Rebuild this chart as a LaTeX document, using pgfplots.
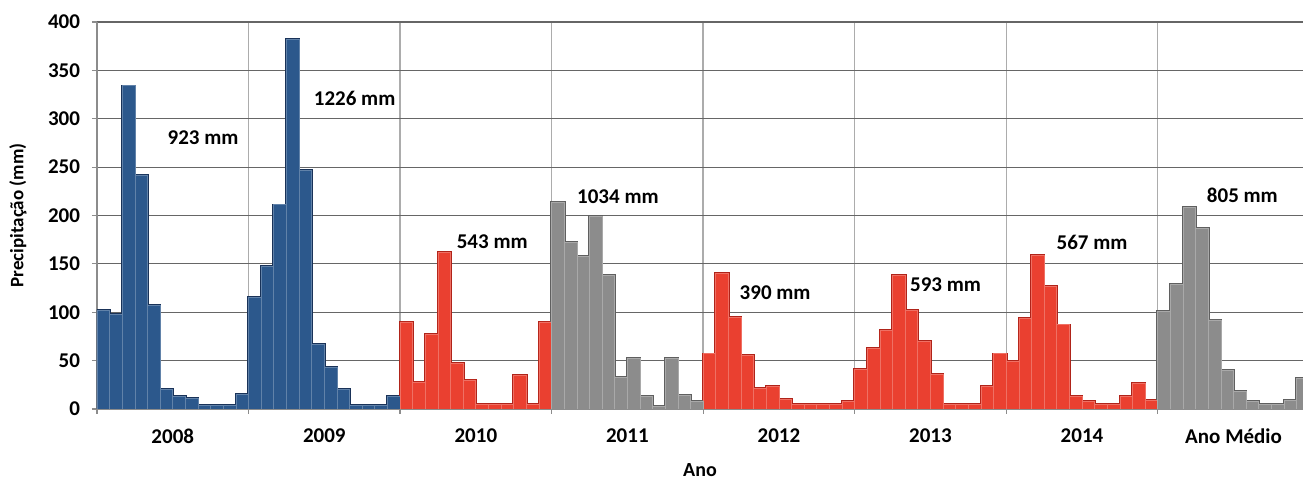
\documentclass[border=0pt]{standalone}
\usepackage{pgfplots}
\usepackage{pgfplotstable}
\pgfplotsset{compat=1.18}
\usepackage{fontspec}
\setmainfont{Carlito}
\definecolor{barblue}{RGB}{44,88,140}
\definecolor{edgeblue}{RGB}{25,50,88}
\definecolor{barred}{RGB}{234,64,48}
\definecolor{edgered}{RGB}{175,35,25}
\definecolor{bargray}{RGB}{140,140,140}
\definecolor{edgegray}{RGB}{95,95,95}
% monthly precipitation, x = month index (0 = Jan 2008)
% 2008-2009
\pgfplotstableread{
x y
0 102
1 98
2 334
3 242
4 107
5 20
6 13
7 11
8 4
9 4
10 4
11 15
12 115
13 147
14 211
15 382
16 247
17 67
18 43
19 20
20 4
21 4
22 4
23 13
}\blueyears
% 2010, 2012, 2013, 2014
\pgfplotstableread{
x y
24 90
25 28
26 77
27 162
28 47
29 30
30 5
31 5
32 5
33 35
34 5
35 90
48 57
49 140
50 95
51 55
52 21
53 23
54 10
55 5
56 5
57 5
58 5
59 8
60 41
61 63
62 81
63 138
64 102
65 70
66 36
67 5
68 5
69 5
70 23
71 57
72 49
73 94
74 159
75 127
76 87
77 13
78 8
79 5
80 5
81 13
82 27
83 9
}\redyears
% 2011, Ano Medio
\pgfplotstableread{
x y
36 214
37 172
38 158
39 199
40 138
41 33
42 52
43 13
44 3
45 52
46 14
47 8
84 101
85 129
86 208
87 187
88 92
89 40
90 18
91 8
92 5
93 5
94 9
95 32
}\grayyears
\begin{document}
\begin{tikzpicture}
\path[use as bounding box] (-48.5pt,-38pt) rectangle (603pt,204.5pt);
\begin{axis}[
    scale only axis,
    width=603pt, height=193.5pt,
    ybar, bar width=1, bar shift=0pt,
    xmin=-0.5, xmax=95,
    ymin=0, ymax=400,
    ytick={0,50,...,400},
    axis x line*=bottom, axis y line*=left,
    axis line style={draw=gray!90, line width=0.6pt},
    tick align=outside, major tick length=2.5pt,
    tick style={draw=gray!90, line width=0.6pt},
    xtick={-0.5,11.5,...,83.5},
    xticklabels={},
    extra x ticks={5.5,17.5,29.5,41.5,53.5,65.5,77.5,89.5},
    extra x tick labels={2008,2009,2010,2011,2012,2013,2014,Ano Médio},
    extra x tick style={major tick length=0pt, grid=none,
        xticklabel style={yshift=-6.5pt}},
    xmajorgrids, ymajorgrids,
    x grid style={draw=gray!65, line width=0.7pt},
    y grid style={draw=black!60, line width=0.6pt},
    ticklabel style={font=\fontsize{10.5}{12}\selectfont\bfseries},
    yticklabel style={xshift=-2.5pt},
    /pgf/number format/assume math mode=true,
    xlabel={Ano}, ylabel={Precipitação (mm)},
    label style={font=\fontsize{10}{12}\selectfont\bfseries},
    xlabel style={at={(axis description cs:0.5,-0.158)}, anchor=center},
    ylabel style={font=\fontsize{9.5}{12}\selectfont\bfseries,
        at={(axis description cs:-0.0655,0.5)}, anchor=center},
]
% dark silhouettes
\addplot[fill=edgeblue, draw=edgeblue, line width=1.3pt] table {\blueyears};
\addplot[fill=edgered, draw=edgered, line width=1.3pt] table {\redyears};
\addplot[fill=edgegray, draw=edgegray, line width=1.3pt] table {\grayyears};
% bars
\addplot[fill=barblue, draw=barblue!75!white, line width=0.35pt] table {\blueyears};
\addplot[fill=barred, draw=barred!75!white, line width=0.35pt] table {\redyears};
\addplot[fill=bargray, draw=bargray!75!white, line width=0.35pt] table {\grayyears};
\begin{scope}[every node/.style={font=\fontsize{10.5}{12}\selectfont\bfseries}]
\node at (axis cs:7.9,280) {923 mm};
\node at (axis cs:19.9,321) {1226 mm};
\node at (axis cs:30.8,172.6) {543 mm};
\node at (axis cs:40.75,219) {1034 mm};
\node at (axis cs:53.2,120) {390 mm};
\node at (axis cs:66.7,128) {593 mm};
\node at (axis cs:78.3,172.6) {567 mm};
\node at (axis cs:90.2,221) {805 mm};
\end{scope}
\end{axis}
\end{tikzpicture}
\end{document}
